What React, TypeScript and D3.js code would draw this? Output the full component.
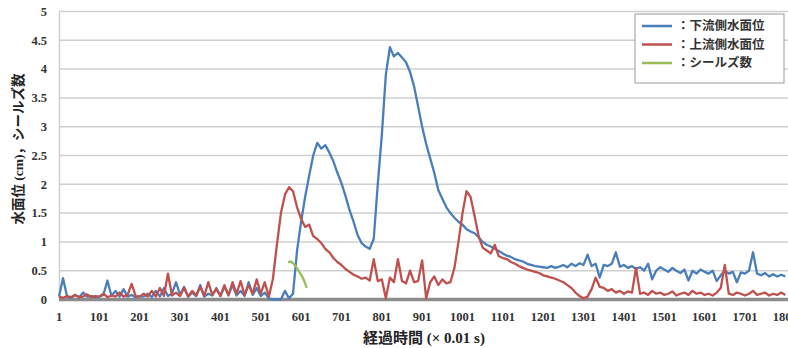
import React, { useEffect, useRef } from "react";
import * as d3 from "d3";

// sample index of each reading (every 10th sample, ×0.01 s)
const STEP = 10;

// 下流側水面位 (cm)
const downstream = [
  0.05, 0.37, 0.05, 0.03, 0.08, 0.04, 0.12, 0.05, 0.06, 0.04,
  0.05, 0.08, 0.33, 0.06, 0.15, 0.05, 0.18, 0.05, 0.08, 0.04,
  0.06, 0.05, 0.1, 0.04, 0.15, 0.05, 0.2, 0.06, 0.1, 0.3,
  0.08, 0.22, 0.05, 0.12, 0.06, 0.25, 0.05, 0.1, 0.07, 0.2,
  0.06, 0.22, 0.08, 0.25, 0.07, 0.15, 0.06, 0.3, 0.08, 0.2,
  0.06, 0.12, 0.02, 0, 0, 0, 0.15, 0.02, 0.1, 0.85,
  1.35, 1.78, 2.15, 2.5, 2.72, 2.62, 2.68, 2.55, 2.4, 2.2,
  2.02, 1.8, 1.55, 1.35, 1.12, 0.98, 0.92, 0.88, 1.05, 2.0,
  2.85, 3.9, 4.38, 4.22, 4.28, 4.2, 4.12, 3.95, 3.7, 3.35,
  3.0, 2.7, 2.45, 2.2, 1.9, 1.75, 1.6, 1.5, 1.42, 1.35,
  1.3, 1.22, 1.18, 1.15, 1.08, 1.0, 0.95, 0.92, 0.88, 0.84,
  0.8, 0.76, 0.74, 0.7, 0.68, 0.66, 0.62, 0.6, 0.58, 0.57,
  0.56, 0.55, 0.58, 0.55, 0.57, 0.6, 0.56, 0.62, 0.58, 0.63,
  0.6, 0.78, 0.58, 0.62, 0.38, 0.6, 0.58, 0.62, 0.82, 0.57,
  0.6, 0.55, 0.58, 0.53, 0.56, 0.5, 0.62, 0.35, 0.5, 0.56,
  0.52, 0.48, 0.55, 0.5, 0.46, 0.52, 0.33, 0.5, 0.45, 0.52,
  0.48, 0.45, 0.5, 0.32, 0.42, 0.5, 0.45, 0.48, 0.3, 0.47,
  0.45, 0.5, 0.82, 0.45, 0.42, 0.46, 0.4, 0.44, 0.4, 0.43,
  0.4,
];

// 上流側水面位 (cm)
const upstream = [
  0.05, 0.03, 0.06, 0.04, 0.08, 0.04, 0.05, 0.09, 0.04, 0.06,
  0.05, 0.1, 0.04, 0.07, 0.05, 0.12, 0.05, 0.08, 0.27, 0.06,
  0.05, 0.1, 0.05, 0.15, 0.05, 0.2, 0.06, 0.45, 0.07, 0.12,
  0.06, 0.2, 0.05, 0.15, 0.07, 0.22, 0.06, 0.3, 0.08, 0.18,
  0.06, 0.25, 0.07, 0.3, 0.1, 0.32, 0.08, 0.25, 0.1, 0.35,
  0.1, 0.3, 0.05, 0.35, 0.95, 1.5, 1.82, 1.95, 1.88, 1.6,
  1.4, 1.26, 1.3, 1.1, 1.05, 0.98, 0.88, 0.82, 0.72, 0.65,
  0.6, 0.53, 0.48, 0.43, 0.4, 0.36, 0.38, 0.33, 0.7, 0.32,
  0.35, 0.02, 0.38, 0.3, 0.7, 0.32, 0.28, 0.5, 0.3, 0.32,
  0.68, 0.02, 0.3, 0.4, 0.25, 0.35, 0.28, 0.3, 0.55, 1.0,
  1.5, 1.88, 1.78, 1.45, 1.1, 0.9, 0.85, 0.8, 0.95, 0.75,
  0.72, 0.7, 0.65, 0.62, 0.58, 0.55, 0.52, 0.5, 0.48, 0.46,
  0.42, 0.4, 0.38, 0.36, 0.33, 0.3, 0.25, 0.2, 0.12, 0.06,
  0.02, 0.05, 0.18, 0.38, 0.22, 0.2, 0.15, 0.18, 0.12, 0.15,
  0.1, 0.14, 0.12, 0.55, 0.1, 0.12, 0.08, 0.15, 0.1, 0.12,
  0.08, 0.1, 0.14, 0.07, 0.1, 0.12, 0.08, 0.15, 0.1, 0.12,
  0.08, 0.1, 0.07, 0.12, 0.2, 0.6, 0.1, 0.08, 0.12, 0.1,
  0.07, 0.1, 0.15, 0.08, 0.1, 0.12, 0.07, 0.1, 0.08, 0.12,
  0.08,
];

// シールズ数 (only a short stretch is plotted)
const shieldsSamples = [569, 575, 581, 587, 593, 599, 605, 611, 615];
const shields = [0.64, 0.66, 0.63, 0.58, 0.52, 0.45, 0.38, 0.28, 0.2];

const xTicks = [1, 101, 201, 301, 401, 501, 601, 701, 801, 901, 1001, 1101, 1201, 1301, 1401, 1501, 1601, 1701, 1801];
const yTicks = [0, 0.5, 1, 1.5, 2, 2.5, 3, 3.5, 4, 4.5, 5];

const legendItems = [
  { label: "：下流側水面位", color: "#4a7ebb" },
  { label: "：上流側水面位", color: "#c0504d" },
  { label: "：シールズ数", color: "#9bbb59" },
];

const W = 788;
const H = 348;
const serif = "'Liberation Serif', 'Noto Sans CJK JP', serif";
const jp = "'Noto Sans CJK JP', sans-serif";

const App = () => {
  const ref = useRef<SVGSVGElement>(null);

  useEffect(() => {
    const svg = d3.select(ref.current);
    svg.selectAll("*").remove();

    const x = d3.scaleLinear().domain([1, 1801]).range([59, 785.3]);
    const y = d3.scaleLinear().domain([0, 5]).range([299.5, 11.5]);

    // grid lines
    svg.append("g")
      .selectAll("line")
      .data(yTicks.slice(1))
      .enter()
      .append("line")
      .attr("x1", 59)
      .attr("x2", W)
      .attr("y1", d => y(d))
      .attr("y2", d => y(d))
      .attr("stroke", "#cfcfcf")
      .attr("stroke-width", 1.5);

    // left axis
    svg.append("line")
      .attr("x1", 59.5).attr("x2", 59.5)
      .attr("y1", y(5)).attr("y2", y(0))
      .attr("stroke", "#cfcfcf").attr("stroke-width", 1.5);

    // bottom axis
    svg.append("line")
      .attr("x1", 59).attr("x2", W)
      .attr("y1", y(0)).attr("y2", y(0))
      .attr("stroke", "#8c8c8c").attr("stroke-width", 3.5);

    // y tick labels
    svg.append("g")
      .selectAll("text")
      .data(yTicks)
      .enter()
      .append("text")
      .attr("x", 47)
      .attr("y", d => y(d))
      .attr("dy", "0.35em")
      .attr("text-anchor", "end")
      .attr("font-family", serif)
      .attr("font-weight", "bold")
      .attr("font-size", 12.5)
      .attr("fill", "#333")
      .text(d => String(d));

    // x tick labels (the last one runs off the right edge, as in the original)
    svg.append("g")
      .selectAll("text")
      .data(xTicks)
      .enter()
      .append("text")
      .attr("x", d => x(d))
      .attr("y", 321)
      .attr("text-anchor", "middle")
      .attr("font-family", serif)
      .attr("font-weight", "bold")
      .attr("font-size", 12.5)
      .attr("fill", "#333")
      .text(d => String(d));

    // axis titles
    svg.append("text")
      .attr("x", 424)
      .attr("y", 343)
      .attr("text-anchor", "middle")
      .attr("font-family", serif)
      .attr("font-weight", "bold")
      .attr("font-size", 15)
      .attr("fill", "#222")
      .text("経過時間 (× 0.01 s)");

    svg.append("text")
      .attr("transform", "translate(23,149) rotate(-90)")
      .attr("text-anchor", "middle")
      .attr("font-family", serif)
      .attr("font-weight", "bold")
      .attr("font-size", 13.5)
      .attr("fill", "#222")
      .text("水面位 (cm)，シールズ数");

    const line = d3.line<number>()
      .x((_, i) => x(1 + i * STEP))
      .y(d => y(d));

    const series = [
      { values: downstream, color: legendItems[0].color },
      { values: upstream, color: legendItems[1].color },
    ];
    series.forEach(s => {
      svg.append("path")
        .datum(s.values)
        .attr("d", line)
        .attr("fill", "none")
        .attr("stroke", s.color)
        .attr("stroke-width", 2.3)
        .attr("stroke-linejoin", "round");
    });

    const shieldsLine = d3.line<number>()
      .x((_, i) => x(shieldsSamples[i]))
      .y(d => y(d))
      .curve(d3.curveMonotoneX);
    svg.append("path")
      .datum(shields)
      .attr("d", shieldsLine)
      .attr("fill", "none")
      .attr("stroke", legendItems[2].color)
      .attr("stroke-width", 2.3);

    // legend
    const lg = svg.append("g").attr("transform", "translate(635,14)");
    lg.append("rect")
      .attr("width", 149)
      .attr("height", 69)
      .attr("fill", "#fff")
      .attr("stroke", "#9a9a9a")
      .attr("stroke-width", 1);
    legendItems.forEach((d, i) => {
      const cy = 12 + i * 18.5;
      lg.append("line")
        .attr("x1", 7).attr("x2", 37)
        .attr("y1", cy).attr("y2", cy)
        .attr("stroke", d.color).attr("stroke-width", 2.5);
      lg.append("text")
        .attr("x", 42)
        .attr("y", cy)
        .attr("dy", "0.35em")
        .attr("font-family", jp)
        .attr("font-weight", "bold")
        .attr("font-size", 12.5)
        .attr("fill", "#333")
        .text(d.label);
    });
  }, []);

  return (
    <svg
      ref={ref}
      width={W}
      height={H}
      style={{ position: "absolute", left: 0, top: 0, background: "#fff" }}
    />
  );
};

export default App;
